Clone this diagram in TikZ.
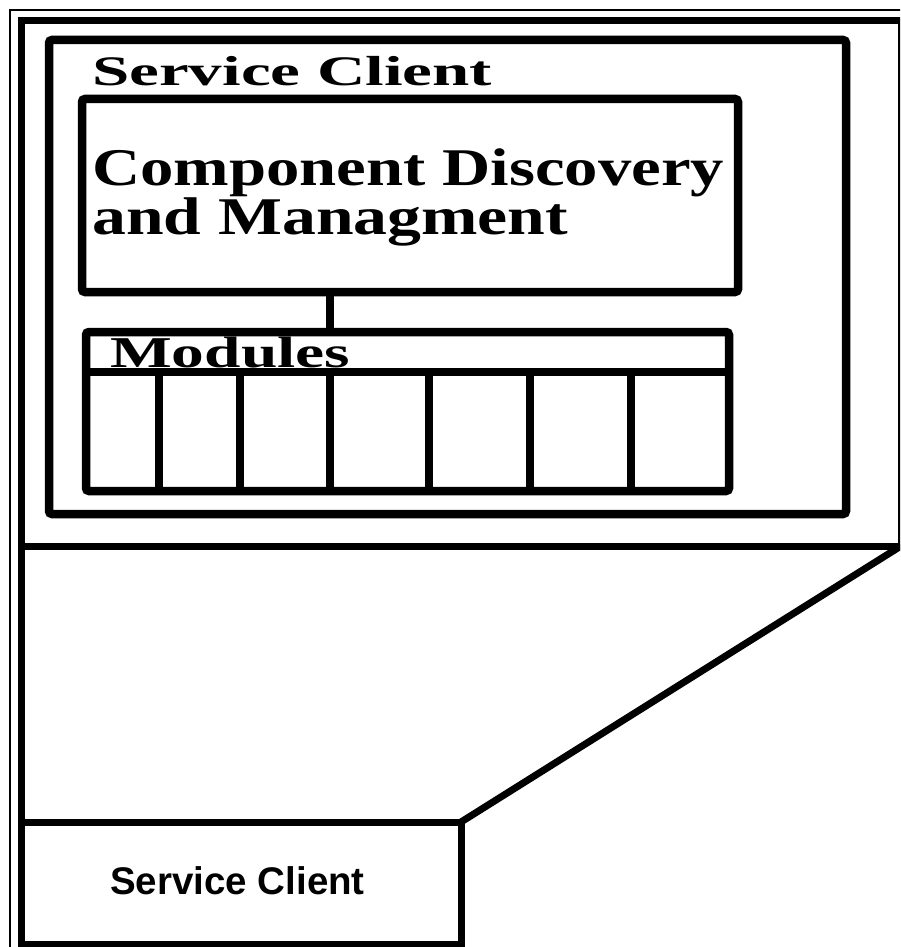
\documentclass[tikz,border=0pt]{standalone}
\usepackage{graphicx}
\usepackage{fontspec}
\setmainfont{Liberation Serif}
\newfontfamily\arialfont{Liberation Sans}
\begin{document}
\begin{tikzpicture}[x=1pt,y=-1pt,
  thickbox/.style={draw=black, line width=8.5pt, rounded corners=3pt, outer sep=0pt, inner sep=0pt, fill=none},
  framebox/.style={draw=black, line width=7pt, outer sep=0pt, inner sep=0pt},
  thinframe/.style={draw=black, line width=2pt},
  serifbig/.style={anchor=base west, inner sep=0pt, font=\bfseries},
  sanslabel/.style={anchor=base west, inner sep=0pt, font=\arialfont\bfseries\fontsize{38.5}{44}\selectfont}
]
\useasboundingbox (0,0) rectangle (900,947);
\clip (0,0) rectangle (900,947);
% outer thin frame (cropped)
\draw[thinframe] (10,10) rectangle (920,970);
% magnified region and callout
\node[framebox, minimum width=880pt, minimum height=525pt] (mag) at (461,283.5) {};
\node[framebox, minimum width=440pt, minimum height=122pt] (bsc) at (241,883) {};
\draw[line width=7pt] (mag.south west) -- (bsc.north west);
\draw[line width=7pt] (mag.south east) -- (bsc.north east);
\node[sanslabel] (bsclabel) at (110,894) {Service Client};
% Service Client box
\node[thickbox, minimum width=797pt, minimum height=474pt] (sc) at (447.5,277) {};
\node[serifbig] (sctitle) at (92,86) {\fontsize{42}{48}\selectfont\resizebox{400pt}{\height}{Service Client}};
% Component Discovery box
\node[thickbox, minimum width=656pt, minimum height=193pt] (cdm) at (410,195.5) {};
\node[serifbig] (cdm1) at (92,185) {\fontsize{53}{58}\selectfont\resizebox{632pt}{\height}{Component Discovery}};
\node[serifbig] (cdm2) at (92,234) {\fontsize{53}{58}\selectfont\resizebox{476pt}{\height}{and Managment}};
% Modules box
\node[thickbox, minimum width=643pt, minimum height=159pt] (mod) at (407.5,411.5) {};
\coordinate (hdrL) at (86,372);
\coordinate (hdrR) at (729,372);
\draw[line width=8.5pt] (hdrL) -- (hdrR);
\foreach \xx in {159,240,330,429,530,631} {
  \draw[line width=8.5pt] (\xx,372) -- (\xx,491);
}
\node[serifbig] (modlabel) at (110,367) {\fontsize{44}{50}\selectfont\resizebox{240pt}{\height}{Modules}};
% connector
\draw[line width=8.5pt] (cdm.south -| 330,0) -- (mod.north -| 330,0);
\end{tikzpicture}
\end{document}
